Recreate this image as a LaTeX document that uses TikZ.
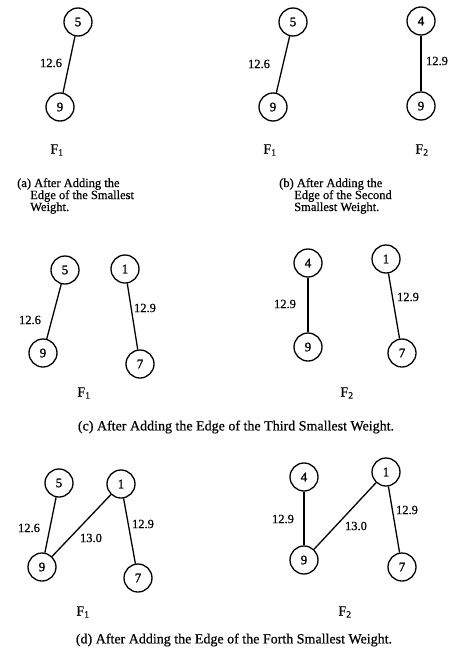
\documentclass[tikz,border=0pt]{standalone}
\usepackage{fontspec}
\setmainfont{Liberation Serif}
\newfontfamily\scanfont[FakeBold=0.6]{Liberation Serif}
\newfontfamily\digitfont[FakeBold=1.6]{Liberation Serif}
\begin{document}
\begin{tikzpicture}[x=1pt,y=-1pt,
  vtx/.style={circle,draw,line width=1.3pt,minimum size=28pt,inner sep=0pt,font=\digitfont\fontsize{13}{14}\selectfont},
  edg/.style={line width=1.3pt},
  wlab/.style={font=\scanfont\fontsize{12.5}{14}\selectfont,inner sep=0pt},
  fname/.style={font=\scanfont\fontsize{14}{15}\selectfont,inner sep=0pt},
  captxt/.style={font=\scanfont\fontsize{12.5}{14}\selectfont,inner sep=0pt,anchor=west},
  bigcap/.style={font=\scanfont\fontsize{14}{15}\selectfont,inner sep=0pt}]
\useasboundingbox (0,0) rectangle (450,648);
% (a)
\node[vtx] (a5) at (78,22) {5};
\node[vtx] (a9) at (60,107) {9};
\draw[edg] (a5) -- (a9);
\node[wlab] (al1) at (51,63) {12.6};
\node[fname] (aF) at (57,150) {F\textsubscript{1}};
\node[captxt] (ac1) at (17,184) {(a) After Adding the};
\node[captxt] (ac2) at (30,196) {Edge of the Smallest};
\node[captxt] (ac3) at (30,208) {Weight.};
% (b)
\node[vtx] (b5) at (293,22) {5};
\node[vtx] (b9) at (273,107) {9};
\draw[edg] (b5) -- (b9);
\node[wlab] (bl1) at (259,64) {12.6};
\node[vtx] (b4) at (421,21) {4};
\node[vtx] (b9b) at (421,106) {9};
\draw[edg] (b4) -- (b9b);
\node[wlab] (bl2) at (437,61) {12.9};
\node[fname] (bF1) at (270,150) {F\textsubscript{1}};
\node[fname] (bF2) at (422,150) {F\textsubscript{2}};
\node[captxt] (bc1) at (279,184) {(b) After Adding the};
\node[captxt] (bc2) at (294,196) {Edge of the Second};
\node[captxt] (bc3) at (294,208) {Smallest Weight.};
% (c)
\node[vtx] (c5) at (65,270) {5};
\node[vtx] (c9) at (43,353) {9};
\draw[edg] (c5) -- (c9);
\node[wlab] (cl1) at (30,320) {12.6};
\node[vtx] (c1) at (125,269) {1};
\node[vtx] (c7) at (140,364) {7};
\draw[edg] (c1) -- (c7);
\node[wlab] (cl2) at (145,308) {12.9};
\node[fname] (cF1) at (84,393) {F\textsubscript{1}};
\node[vtx] (c4) at (308,263) {4};
\node[vtx] (c9b) at (308,347) {9};
\draw[edg] (c4) -- (c9b);
\node[wlab] (cl3) at (285,304) {12.9};
\node[vtx] (c1b) at (386,259) {1};
\node[vtx] (c7b) at (402,353) {7};
\draw[edg] (c1b) -- (c7b);
\node[wlab] (cl4) at (408,297) {12.9};
\node[fname] (cF2) at (347,393) {F\textsubscript{2}};
\node[bigcap] (ccap) at (236,427) {(c) After Adding the Edge of the Third Smallest Weight.};
% (d)
\node[vtx] (d5) at (59,483) {5};
\node[vtx] (d9) at (42,567) {9};
\draw[edg] (d5) -- (d9);
\node[wlab] (dl1) at (29,528) {12.6};
\node[vtx] (d1) at (121,484) {1};
\node[vtx] (d7) at (138,578) {7};
\draw[edg] (d1) -- (d7);
\draw[edg] (d9) -- (d1);
\node[wlab] (dl2) at (143,524) {12.9};
\node[wlab] (dl3) at (91,538) {13.0};
\node[fname] (dF1) at (83,612) {F\textsubscript{1}};
\node[vtx] (d4) at (304,477) {4};
\node[vtx] (d9b) at (304,560) {9};
\draw[edg] (d4) -- (d9b);
\node[vtx] (d1b) at (386,472) {1};
\node[vtx] (d7b) at (402,567) {7};
\draw[edg] (d1b) -- (d7b);
\draw[edg] (d9b) -- (d1b);
\node[wlab] (dl4) at (283,519) {12.9};
\node[wlab] (dl5) at (356,526) {13.0};
\node[wlab] (dl6) at (407,510) {12.9};
\node[fname] (dF2) at (345,612) {F\textsubscript{2}};
\node[bigcap] (dcap) at (234,640) {(d) After Adding the Edge of the Forth Smallest Weight.};
\end{tikzpicture}
\end{document}
